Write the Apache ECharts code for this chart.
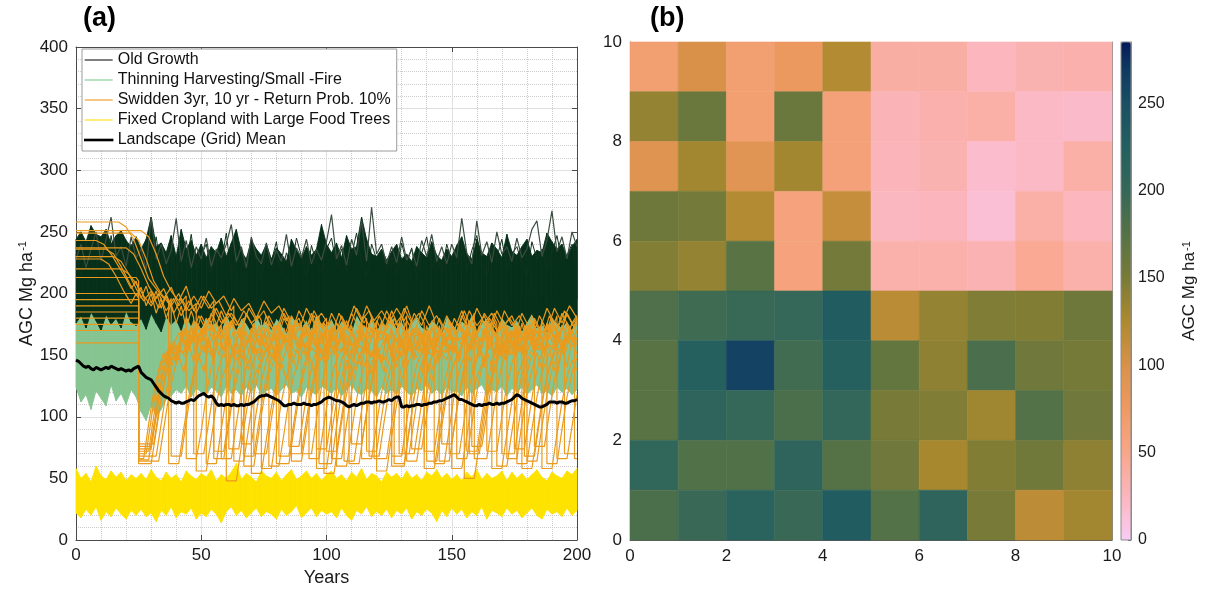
<!DOCTYPE html>
<html><head><meta charset="utf-8">
<script src="https://cdn.jsdelivr.net/npm/echarts@6/dist/echarts.min.js"></script>
<style>html,body{margin:0;padding:0;background:#fff}#c{width:1225px;height:591px}</style>
</head><body><div id="c"></div>
<script>
const FONT = '"Liberation Sans", Arial, Helvetica, sans-serif';

// ---------- panel (a) data ----------
const yearTicks = [0, 50, 100, 150, 200];
const agcTicks = [0, 50, 100, 150, 200, 250, 300, 350, 400];
// envelopes sampled every 2 years (0..200)
const ogLower = [176,182,172,185,178,170,183,175,180,172,186,177,174, 180,171,184,176,169,182,175,179,170,183,174,178,172, 181,173,177,168,184,175,171,180,176,169,183,174,178, 171,180,175,168,182,177,172,179,170,184,176,173, 180,171,178,174,169,183,176,172,180,170,177,174, 182,172,178,169,176,181,173,170,179,175,168,182,176, 171,178,174,183,170,176,180,172,168,181,175,173, 179,170,177,184,172,175,169,181,176,172,178,171,180];
const ogUpper = [244,250,242,255,248,246,252,240,247,251,243,238,246, 236,244,262,238,241,233,247,230,252,236,243,231,240, 229,238,233,245,230,241,252,234,228,243,236,231,240, 228,237,232,226,244,235,229,238,231,236,256,240, 233,241,229,247,236,238,262,244,232,230,236,227, 234,240,228,232,226,238,233,229,242,231,227,236,230, 239,246,232,228,244,233,230,241,236,229,248,234, 231,238,244,230,235,233,249,242,236,240,230,238,244];
const ogSpike = [228,240,221,236,250,226,244,262,230,238,222,246,229, 236,219,262,228,240,224,235,261,226,243,221,238,228, 245,222,236,229,240,256,226,238,221,246,230,224,241, 223,235,226,248,222,237,229,244,224,236,227,242, 264,228,239,223,244,231,259,226,270,232,240,224, 238,225,246,227,236,222,243,230,248,226,238,224,240, 229,261,233,224,259,231,242,225,250,232,238,226, 245,229,236,252,259,230,243,267,234,246,228,250,238];
const ogLine2 = [232,214,241,226,219,238,210,247,224,233,216,240,222, 213,238,225,246,218,230,241,212,235,224,248,219,231, 240,217,233,225,249,214,228,236,219,244,226,211,237, 226,242,215,233,221,245,230,214,239,224,218,236, 245,222,236,218,231,249,225,213,240,228,235,220, 230,215,241,224,237,212,233,246,221,229,217,240,226, 222,240,218,235,247,226,213,238,229,244,220,232, 238,224,215,242,228,236,219,233,247,226,231,240,222];
const thinLower = [124,112,118,106,121,115,109,126,113,119,110,122,116, 104,97,110,100,106,114,117,122,119,125,116,123,120, 118,124,121,116,125,119,122,117,124,120,126,118,121, 123,117,122,126,119,121,116,124,120,118,125,122, 119,124,117,122,126,120,118,123,121,116,124,119, 122,118,125,120,117,123,121,126,119,122,118,124,120, 121,117,124,119,123,126,118,122,120,125,117,123, 120,124,118,122,126,119,121,117,124,120,123,118,122];
const thinUpper = [192,196,189,198,191,194,199,190,195,188,197,193,190, 196,190,199,193,188,197,192,195,189,198,191,194,196, 190,197,192,188,199,194,190,196,193,189,198,192,195, 191,198,194,189,196,192,199,190,195,193,188,197, 193,189,198,192,195,190,197,194,188,196,191,199, 195,190,197,193,189,198,192,196,190,194,199,191,193, 197,192,189,195,198,191,194,190,196,193,188,197, 190,196,193,199,191,195,189,197,192,194,198,190,195];
const cropLower = [22,18,25,20,27,16,23,19,26,21,17,24,20, 25,19,22,15,24,20,27,18,23,21,26,17,22, 19,25,21,14,23,27,20,24,18,22,26,19,23, 21,17,25,20,23,28,18,22,26,19,24,21, 23,18,26,20,16,24,21,27,19,23,20,25, 18,24,21,26,17,23,20,25,22,15,24,19,26, 21,25,18,23,20,27,17,24,22,19,26,21, 24,18,22,26,20,17,25,21,23,19,26,20,24];
const cropUpper = [58,50,54,47,60,52,49,56,51,55,48,53,50, 54,49,57,51,48,55,50,53,47,56,52,49,54, 51,57,48,53,50,55,62,49,54,51,47,56,52, 50,55,48,53,57,49,52,56,50,54,48,53, 56,50,53,48,55,51,58,49,54,52,47,55, 51,54,49,56,50,53,48,55,52,57,50,54,49, 53,48,55,51,57,49,54,50,52,56,48,55, 50,54,49,53,57,51,48,55,52,50,56,53,58];
// landscape mean, every year 0..200
const meanAGC = [146,145,143,141,140,141,139,138,140,139, 138,139,140,139,141,140,139,138,139,138, 137,138,137,139,140,141,136,134,132,131, 130,127,124,121,119,117,116,115,113,112, 111,112,111,111,112,113,114,113,115,117, 118,119,117,116,117,115,111,109,110,109, 110,110,109,110,109,109,110,109,110,110, 111,112,114,116,117,117,118,117,116,115, 114,113,111,109,109,110,110,111,110,110, 110,111,110,110,109,110,110,111,112,114, 115,116,115,114,113,113,112,111,109,108, 109,110,109,110,111,111,112,112,111,112, 112,113,112,112,113,114,113,115,116,116, 108,108,109,108,109,109,110,110,109,110, 110,111,111,112,112,113,113,114,115,116, 117,118,116,114,114,113,112,111,110,109, 109,110,109,110,110,111,110,110,111,110, 111,111,112,113,114,116,118,117,115,114, 113,112,111,110,109,108,108,109,110,112, 112,112,111,112,112,111,111,112,113,113, 114];
// swidden plots: [year, AGC] vertices
const swidden1 = [[0,258],[17,258],[20,254],[23,244],[26,228],[29,212],[32,204],[35,196],[38,205],[41,190],[44,198],[44,66],[48,66],[50,88],[52,118],[54,140],[56,156],[59,166],[62,178],[65,164],[68,184],[71,172],[71,70],[76,70],[78,98],[80,124],[82,144],[85,160],[88,152],[91,174],[94,162],[97,182],[97,62],[102,62],[104,92],[106,120],[108,140],[111,156],[114,170],[117,158],[120,178],[123,166],[126,186],[129,172],[132,190],[134,178],[134,74],[138,74],[140,102],[142,128],[144,146],[147,160],[150,154],[153,176],[156,164],[159,184],[159,66],[164,66],[166,94],[168,122],[170,142],[173,158],[176,150],[179,172],[182,162],[185,182],[188,170],[191,188],[194,176],[197,190],[200,180]];
const swidden2 = [[0,251],[26,251],[29,246],[32,232],[35,214],[38,202],[41,194],[44,206],[47,186],[50,198],[53,188],[55,194],[55,72],[59,72],[61,100],[63,126],[65,146],[68,160],[71,174],[74,162],[77,182],[80,170],[83,188],[86,176],[86,64],[90,64],[92,90],[94,118],[96,138],[99,154],[102,168],[105,158],[108,178],[110,168],[110,78],[114,78],[116,104],[118,130],[120,148],[123,162],[126,156],[129,176],[132,166],[135,184],[138,174],[141,190],[143,180],[143,62],[147,62],[149,90],[151,118],[153,138],[156,154],[159,168],[162,160],[165,180],[168,170],[170,176],[170,70],[175,70],[177,98],[179,124],[181,144],[184,160],[187,152],[190,174],[193,164],[196,184],[199,172],[200,178]];
const swidden3 = [[0,249],[22,249],[25,243],[28,228],[31,210],[34,200],[37,192],[38,196],[38,68],[42,68],[44,96],[46,122],[48,142],[51,158],[54,150],[57,172],[60,162],[63,182],[66,170],[69,188],[72,178],[75,186],[77,176],[77,60],[81,60],[83,86],[85,114],[87,134],[90,150],[93,164],[96,156],[99,176],[102,166],[105,184],[108,172],[111,190],[114,178],[117,186],[119,174],[119,66],[124,66],[126,94],[128,120],[130,140],[133,156],[136,148],[139,170],[142,160],[145,180],[148,168],[150,176],[150,58],[154,58],[156,84],[158,112],[160,132],[163,148],[166,162],[169,154],[172,174],[175,164],[178,184],[181,172],[183,180],[183,76],[187,76],[189,104],[191,130],[193,148],[196,162],[199,156],[200,160]];
const swidden4 = [[0,237],[20,237],[23,232],[26,220],[29,206],[32,196],[35,204],[38,190],[41,200],[44,186],[47,198],[50,188],[53,202],[56,192],[59,198],[62,186],[63,190],[63,64],[67,64],[69,92],[71,118],[73,138],[76,154],[79,146],[82,168],[85,158],[88,178],[91,166],[94,184],[96,172],[96,74],[100,74],[102,102],[104,128],[106,146],[109,160],[112,152],[115,174],[118,164],[121,182],[124,170],[126,178],[126,60],[131,60],[133,88],[135,116],[137,136],[140,152],[143,166],[146,158],[149,178],[152,168],[155,186],[157,176],[157,70],[161,70],[163,98],[165,124],[167,144],[170,158],[173,150],[176,172],[179,162],[182,182],[185,170],[188,188],[191,176],[192,182],[192,66],[196,66],[198,92],[200,118]];
const swidden5 = [[0,230],[15,230],[18,226],[21,216],[24,204],[27,194],[30,202],[33,188],[36,198],[39,184],[42,196],[45,186],[48,192],[48,56],[52,56],[54,82],[56,110],[58,130],[61,146],[64,160],[67,152],[70,172],[73,162],[76,182],[79,170],[81,176],[81,68],[85,68],[87,96],[89,122],[91,142],[94,156],[97,150],[100,172],[103,162],[106,182],[109,170],[112,188],[115,176],[116,180],[116,72],[120,72],[122,100],[124,126],[126,144],[129,158],[132,152],[135,172],[138,164],[140,170],[140,64],[144,64],[146,92],[148,118],[150,138],[153,154],[156,168],[159,160],[162,178],[165,168],[168,186],[171,174],[174,182],[176,172],[176,62],[180,62],[182,90],[184,116],[186,136],[189,152],[192,166],[195,158],[198,176],[200,168]];
const swidden6 = [[0,220],[18,220],[21,216],[24,208],[27,198],[30,190],[33,200],[36,186],[39,196],[42,182],[45,194],[48,184],[51,198],[54,188],[57,194],[60,182],[63,196],[66,186],[69,192],[72,180],[75,194],[78,184],[81,190],[84,178],[85,182],[85,76],[89,76],[91,104],[93,130],[95,148],[98,162],[101,154],[104,176],[107,166],[110,184],[113,172],[116,190],[119,178],[122,186],[125,176],[128,188],[131,178],[132,182],[132,64],[136,64],[138,92],[140,118],[142,138],[145,154],[148,146],[151,168],[154,158],[157,178],[160,166],[163,184],[166,174],[166,58],[170,58],[172,86],[174,112],[176,132],[179,148],[182,162],[185,154],[188,174],[191,164],[194,184],[197,172],[200,180]];
const swidden7 = [[0,200],[25,200],[25,65],[29,65],[31,92],[33,118],[35,138],[38,154],[41,168],[44,160],[47,178],[50,168],[52,174],[52,62],[56,62],[58,90],[60,116],[62,136],[65,152],[68,146],[71,166],[74,158],[77,176],[80,166],[83,184],[86,172],[89,180],[90,174],[90,70],[94,70],[96,98],[98,124],[100,144],[103,158],[106,152],[109,172],[112,162],[115,182],[118,170],[120,176],[120,56],[124,56],[126,84],[128,110],[130,130],[133,146],[136,160],[139,152],[142,172],[145,164],[148,182],[151,170],[154,186],[156,176],[156,72],[160,72],[162,100],[164,126],[166,144],[169,158],[172,152],[175,172],[178,162],[180,168],[180,64],[184,64],[186,92],[188,118],[190,138],[193,154],[196,166],[199,160],[200,164]];
const swidden8 = [[0,190],[25,190],[25,62],[30,62],[32,88],[34,114],[36,134],[39,150],[42,164],[45,156],[48,176],[51,166],[54,184],[57,172],[60,180],[61,174],[61,74],[65,74],[67,102],[69,128],[71,146],[74,160],[77,152],[80,174],[83,164],[86,182],[89,170],[92,188],[95,176],[98,184],[101,174],[102,178],[102,66],[106,66],[108,94],[110,120],[112,140],[115,156],[118,148],[121,170],[124,160],[127,180],[129,170],[129,70],[133,70],[135,98],[137,124],[139,144],[142,158],[145,152],[148,172],[151,162],[154,182],[157,170],[160,188],[163,176],[166,184],[168,176],[168,60],[172,60],[174,88],[176,114],[178,134],[181,150],[184,164],[187,156],[190,176],[193,166],[196,184],[199,172],[200,176]];
const swidden9 = [[0,180],[25,180],[25,70],[28,70],[30,98],[32,124],[34,142],[37,156],[40,150],[43,172],[46,162],[49,182],[52,170],[55,188],[58,176],[61,184],[64,174],[67,186],[70,176],[73,182],[74,178],[74,58],[78,58],[80,86],[82,112],[84,132],[87,148],[90,162],[93,154],[96,174],[99,164],[102,184],[105,172],[107,178],[107,64],[111,64],[113,92],[115,118],[117,138],[120,154],[123,146],[126,168],[129,158],[132,178],[135,168],[138,186],[141,174],[144,182],[146,174],[146,78],[150,78],[152,106],[154,132],[156,150],[159,164],[162,156],[165,176],[168,166],[171,186],[174,174],[177,182],[179,174],[179,68],[183,68],[185,96],[187,122],[189,142],[192,156],[195,150],[198,170],[200,162]];
const swidden10 = [[0,160],[25,160],[25,78],[31,78],[33,104],[35,128],[37,146],[40,158],[43,152],[46,172],[49,162],[52,180],[55,168],[58,186],[60,176],[60,48],[64,48],[66,76],[68,104],[70,126],[73,142],[76,156],[79,148],[82,168],[85,158],[88,178],[91,166],[93,172],[93,66],[97,66],[99,94],[101,120],[103,140],[106,156],[109,148],[112,170],[115,160],[118,180],[121,168],[124,186],[127,174],[130,182],[131,176],[131,70],[135,70],[137,98],[139,124],[141,144],[144,158],[147,152],[150,172],[153,162],[155,168],[155,50],[159,50],[161,78],[163,106],[165,128],[168,144],[171,158],[174,150],[177,170],[180,160],[183,180],[186,168],[188,174],[188,62],[192,62],[194,90],[196,116],[198,136],[200,148]];
const swidden11 = [[0,213],[24,213],[25,210],[25,72],[29,72],[31,100],[33,126],[35,144],[38,158],[41,152],[44,172],[47,162],[50,182],[53,170],[56,188],[59,176],[62,184],[65,174],[67,180],[67,60],[71,60],[73,88],[75,114],[77,134],[80,150],[83,164],[86,156],[89,176],[92,166],[95,186],[98,174],[100,180],[100,72],[104,72],[106,100],[108,126],[110,144],[113,158],[116,152],[119,172],[122,162],[125,182],[128,170],[131,188],[134,176],[137,184],[139,176],[139,58],[143,58],[145,86],[147,112],[149,132],[152,148],[155,162],[158,154],[161,174],[164,164],[167,184],[170,172],[173,180],[175,174],[175,74],[179,74],[181,102],[183,128],[185,146],[188,160],[191,154],[194,174],[197,164],[200,180]];
const swidden12 = [[0,170],[25,170],[25,68],[32,68],[34,94],[36,120],[38,140],[41,156],[44,148],[47,170],[50,160],[53,180],[56,168],[58,174],[58,66],[62,66],[64,94],[66,120],[68,140],[71,156],[74,150],[77,170],[80,160],[83,180],[86,168],[89,186],[92,174],[95,182],[98,172],[99,176],[99,54],[103,54],[105,82],[107,108],[109,128],[112,144],[115,158],[118,150],[121,170],[124,160],[126,166],[126,68],[130,68],[132,96],[134,122],[136,142],[139,156],[142,150],[145,170],[148,160],[151,180],[154,168],[157,186],[160,174],[163,182],[164,176],[164,72],[168,72],[170,100],[172,126],[174,144],[177,158],[180,152],[183,172],[186,162],[189,182],[192,170],[195,186],[198,176],[200,182]];
const swidden13 = [[0,236],[12,236],[15,232],[18,222],[21,210],[24,198],[26,205],[28,190],[30,200],[32,184],[34,196],[36,180],[38,192],[40,176],[42,190],[44,172],[46,186],[47,180],[47,70],[51,70],[53,96],[55,122],[57,140],[59,152],[61,138],[63,160],[65,146],[67,170],[69,152],[71,176],[73,158],[75,168],[77,150],[79,172],[80,160],[80,62],[85,62],[87,90],[89,116],[91,136],[93,150],[95,136],[97,158],[99,144],[101,168],[103,150],[105,174],[107,156],[109,166],[111,148],[113,172],[114,160],[114,66],[118,66],[120,94],[122,120],[124,138],[126,154],[128,140],[130,164],[132,148],[134,172],[136,154],[138,168],[140,150],[142,174],[144,158],[146,170],[148,152],[149,160],[149,70],[153,70],[155,98],[157,124],[159,142],[161,156],[163,140],[165,166],[167,150],[169,176],[171,156],[173,170],[175,152],[177,174],[179,158],[181,168],[183,150],[185,172],[186,162],[186,58],[190,58],[192,86],[194,112],[196,132],[198,146],[200,138]];
const swidden14 = [[0,228],[10,228],[13,224],[16,214],[19,202],[22,192],[24,200],[25,196],[25,74],[30,74],[32,100],[34,126],[36,144],[38,158],[40,142],[42,166],[44,150],[46,174],[48,156],[50,170],[52,148],[54,176],[56,160],[58,172],[60,154],[62,178],[64,162],[66,170],[67,164],[67,68],[71,68],[73,96],[75,122],[77,140],[79,154],[81,140],[83,164],[85,148],[87,172],[89,156],[91,168],[93,150],[95,176],[97,160],[99,170],[101,152],[103,174],[104,166],[104,60],[108,60],[110,88],[112,114],[114,134],[116,148],[118,134],[120,158],[122,142],[124,166],[126,150],[128,172],[130,156],[132,168],[134,150],[136,174],[138,160],[139,166],[139,72],[143,72],[145,100],[147,126],[149,144],[151,158],[153,144],[155,168],[157,152],[159,176],[161,160],[163,172],[165,154],[167,178],[169,162],[171,170],[172,164],[172,66],[176,66],[178,94],[180,120],[182,138],[184,152],[186,138],[188,162],[190,146],[192,170],[194,154],[196,176],[198,160],[200,170]];
const swidden15 = [[0,185],[25,185],[25,64],[33,64],[35,90],[37,116],[39,136],[41,150],[43,136],[45,160],[47,144],[49,168],[51,152],[53,164],[55,146],[57,170],[59,154],[61,166],[63,150],[65,172],[66,162],[66,78],[70,78],[72,104],[74,128],[76,146],[78,160],[80,146],[82,170],[84,154],[86,176],[88,158],[90,168],[92,150],[94,172],[96,156],[98,166],[100,150],[102,174],[104,158],[106,168],[108,152],[109,160],[109,62],[113,62],[115,90],[117,116],[119,136],[121,150],[123,136],[125,160],[127,144],[129,168],[131,152],[133,164],[135,146],[137,170],[139,154],[141,166],[143,150],[145,172],[147,158],[149,168],[151,152],[152,160],[152,66],[156,66],[158,94],[160,120],[162,140],[164,154],[166,140],[168,164],[170,148],[172,172],[174,156],[176,168],[178,150],[180,174],[182,158],[184,170],[186,152],[188,176],[190,160],[192,170],[194,154],[195,162],[195,70],[200,70]];
const swidden16 = [[0,175],[25,175],[25,66],[27,66],[29,94],[31,120],[33,138],[35,152],[37,138],[39,162],[41,146],[43,170],[45,154],[47,166],[49,148],[51,172],[53,156],[55,168],[57,150],[59,174],[61,158],[63,170],[65,152],[67,176],[69,160],[70,168],[70,54],[74,54],[76,82],[78,108],[80,128],[82,144],[84,130],[86,154],[88,138],[90,162],[92,146],[94,170],[96,154],[98,166],[100,148],[102,172],[104,156],[106,168],[108,150],[110,174],[112,158],[114,168],[116,152],[117,160],[117,68],[121,68],[123,96],[125,122],[127,140],[129,154],[131,140],[133,164],[135,148],[137,172],[139,156],[141,168],[143,150],[145,174],[147,158],[149,170],[151,152],[153,176],[155,160],[157,170],[158,164],[158,76],[162,76],[164,102],[166,128],[168,146],[170,160],[172,146],[174,170],[176,154],[178,176],[180,160],[182,172],[184,154],[186,178],[188,162],[190,172],[192,156],[194,174],[196,160],[198,170],[199,164],[199,66],[200,66]];
const swidden17 = [[0,195],[25,195],[25,76],[30,76],[32,102],[34,128],[36,146],[38,160],[40,146],[42,170],[44,154],[46,166],[48,150],[50,172],[52,158],[54,168],[55,160],[55,66],[59,66],[61,94],[63,120],[65,138],[67,152],[69,138],[71,162],[73,146],[75,170],[77,154],[79,166],[81,148],[83,172],[85,158],[87,168],[89,150],[91,174],[93,160],[95,170],[96,164],[96,58],[100,58],[102,86],[104,112],[106,132],[108,146],[110,132],[112,156],[114,140],[116,164],[118,148],[120,160],[122,144],[124,168],[126,152],[128,164],[130,148],[132,172],[134,156],[136,168],[138,150],[140,174],[142,158],[144,168],[145,162],[145,64],[149,64],[151,92],[153,118],[155,136],[157,150],[159,136],[161,160],[163,144],[165,168],[167,152],[169,164],[171,146],[173,170],[175,154],[177,166],[179,150],[181,174],[183,158],[185,170],[187,152],[189,176],[191,160],[193,170],[195,154],[197,172],[199,158],[200,164]];
const swidden18 = [[0,243],[8,243],[11,240],[14,232],[17,222],[20,212],[22,204],[24,210],[26,196],[28,206],[30,192],[32,202],[34,188],[36,198],[37,192],[37,62],[41,62],[43,90],[45,116],[47,136],[49,150],[51,136],[53,160],[55,144],[57,168],[59,152],[61,164],[63,146],[65,170],[67,154],[69,166],[71,150],[73,174],[75,158],[77,168],[79,152],[81,176],[83,160],[85,170],[86,164],[86,70],[90,70],[92,98],[94,124],[96,142],[98,156],[100,142],[102,166],[104,150],[106,174],[108,158],[110,170],[112,152],[114,176],[116,160],[118,172],[120,154],[122,178],[124,162],[126,170],[127,166],[127,62],[131,62],[133,90],[135,116],[137,136],[139,150],[141,136],[143,160],[145,144],[147,168],[149,152],[151,164],[153,146],[155,170],[157,154],[159,166],[161,148],[163,172],[165,156],[167,168],[169,150],[171,174],[173,158],[175,170],[177,152],[178,160],[178,58],[182,58],[184,86],[186,112],[188,132],[190,146],[192,132],[194,156],[196,140],[198,164],[200,150]];
const swiddenPlots = [swidden1,swidden2,swidden3,swidden4,swidden5,swidden6,swidden7,swidden8,swidden9,swidden10,swidden11,swidden12,swidden13,swidden14,swidden15,swidden16,swidden17,swidden18];

// ---------- panel (b) data: rows from y=9..10 (top) to y=0..1 (bottom) ----------
const gridTicks = [0, 2, 4, 6, 8, 10];
const colorbarTicks = [0, 50, 100, 150, 200, 250];
const agcGrid = [
  [65,100,65,78,122,38,38,25,32,33],
  [137,160,65,160,60,28,33,36,22,20],
  [92,130,90,130,60,27,32,18,22,36],
  [157,153,122,58,112,24,26,15,36,25],
  [145,137,172,58,153,34,34,31,45,34],
  [180,192,198,200,230,118,137,147,146,157],
  [172,222,262,190,222,165,140,183,156,152],
  [172,210,200,182,203,150,147,132,176,156],
  [205,178,178,210,175,156,128,146,155,140],
  [182,197,215,197,230,176,210,150,117,130]
];
const cbMax = 285;
const cmapAnchors = [[0,'#f9ccf4'],[25,'#fbb6be'],[50,'#f8a68a'],[75,'#ee9a62'],[100,'#d9914a'],[125,'#ae8a2e'],[150,'#787b37'],[175,'#557246'],[200,'#356858'],[225,'#235f60'],[250,'#1a4f63'],[270,'#0f3860'],[285,'#03195a']];

// ---------- helpers ----------
const years2 = ogLower.map((_, i) => i * 2);
const pair = arr => arr.map((v, i) => [years2[i], v]);
const band = (lo, up) => lo.map((v, i) => [years2[i], v, up[i]]);
function hex2rgb(h){return [parseInt(h.substr(1,2),16),parseInt(h.substr(3,2),16),parseInt(h.substr(5,2),16)];}
function cmapAt(v){
  for (let k=1;k<cmapAnchors.length;k++){
    const [v0,c0]=cmapAnchors[k-1],[v1,c1]=cmapAnchors[k];
    if (v<=v1){const t=(v-v0)/(v1-v0);const a=hex2rgb(c0),b=hex2rgb(c1);
      return 'rgb('+a.map((x,j)=>Math.round(x+(b[j]-x)*t)).join(',')+')';}
  }
  return cmapAnchors[cmapAnchors.length-1][1];
}
const cmapColors = [];
for (let v=0; v<=cbMax; v+=5) cmapColors.push(cmapAt(v));

const heatData = [];
agcGrid.forEach((row, r) => row.forEach((val, c) => heatData.push([c, agcGrid.length - 1 - r, val])));

const GREEN = '#86c591', DARK = '#07301a', ORANGE = '#ea9a1c', YELLOW = '#fee200';
const AX = '#4a4a4a';
const lbl = {fontSize: 17, color: '#1a1a1a', fontFamily: FONT};
const supName = (fs) => ({color:'#1a1a1a', rich:{b:{fontSize:fs, fontFamily:FONT, color:'#1a1a1a'}, s:{fontSize:Math.round(fs*0.62), fontFamily:FONT, color:'#1a1a1a', verticalAlign:'top', padding:[0,0,0,1]}}});

function bandRender(color){
  return function(params, api){
    const i = params.dataIndexInside;
    if (i >= params.dataInsideLength - 1) return null;
    const x0 = api.value(0, i), l0 = api.value(1, i), u0 = api.value(2, i);
    const x1 = api.value(0, i + 1), l1 = api.value(1, i + 1), u1 = api.value(2, i + 1);
    const pts = [api.coord([x0, l0]), api.coord([x1, l1]), api.coord([x1, u1]), api.coord([x0, u0])];
    return {type:'polygon', shape:{points:pts}, style:{fill:color, stroke:color, lineWidth:0.9}};
  };
}
function bandSeries(name, lo, up, color){
  return {type:'custom', name:name, xAxisIndex:0, yAxisIndex:0, silent:true, animation:false, color:color,
    data: band(lo, up), encode:{x:0, y:[1,2]}, renderItem: bandRender(color)};
}

const base = {type:'line', xAxisIndex:0, yAxisIndex:0, symbol:'none', silent:true, animation:false};
const series = [];
series.push(bandSeries('Thinning Harvesting/Small -Fire', thinLower, thinUpper, GREEN));
series.push(bandSeries('Old Growth', ogLower, ogUpper, DARK));
series.push(Object.assign({}, base, {name:'_og1', data: pair(ogLine2), lineStyle:{width:1,color:'#10321c'}}));
series.push(Object.assign({}, base, {name:'_og2', data: pair(ogSpike), lineStyle:{width:1.2,color:'#3c4d42'}}));
swiddenPlots.forEach(p => series.push(Object.assign({}, base, {name:'Swidden 3yr, 10 yr - Return Prob. 10%', color:ORANGE, data:p, lineStyle:{width:1.2,color:ORANGE}})));
series.push(bandSeries('Fixed Cropland with Large Food Trees', cropLower, cropUpper, YELLOW));
series.push(Object.assign({}, base, {name:'Landscape (Grid) Mean', color:'#000', data: meanAGC.map((v,i)=>[i,v]), lineStyle:{width:3,color:'#000'}, z:5}));
const heatIndex = series.length;
series.push({type:'custom', name:'grid', xAxisIndex:2, yAxisIndex:2, silent:true, animation:false, data: heatData, encode:{x:0,y:1},
  renderItem: function(params, api){
    const x = api.value(0), y = api.value(1);
    const a = api.coord([x, y + 1]), b = api.coord([x + 1, y]);
    const col = api.visual('color');
    return {type:'rect', shape:{x:a[0], y:a[1], width:b[0]-a[0], height:b[1]-a[1]}, style:{fill:col, stroke:col, lineWidth:0.6}};
  }});

const option = {
  animation: false,
  backgroundColor: '#fff',
  textStyle: {fontFamily: FONT},
  graphic: [
    {type:'text', left: 83, top: 5, style:{text:'(a)', font:'bold 27px ' + FONT, fill:'#000'}},
    {type:'text', left: 650, top: 5, style:{text:'(b)', font:'bold 27px ' + FONT, fill:'#000'}}
  ],
  grid: [
    {left:76, top:47, width:501, height:493, containLabel:false, outerBoundsMode:'none'},
    {left:630, top:42, width:482, height:498, containLabel:false, outerBoundsMode:'none'},
    {left:1121, top:42, width:10, height:498, containLabel:false, outerBoundsMode:'none', show:true, borderColor:'#8a8a8a', borderWidth:1, backgroundColor:'transparent', z:5}
  ],
  xAxis: [
    {gridIndex:0, type:'value', min:yearTicks[0], max:yearTicks[yearTicks.length-1], interval:50, position:'bottom',
      axisLine:{show:true, onZero:false, lineStyle:{color:AX}}, axisTick:{show:true, inside:true, length:5, lineStyle:{color:AX}},
      axisLabel:Object.assign({margin:7}, lbl), splitLine:{show:true, lineStyle:{color:'#e1e1e1'}},
      minorTick:{show:false, splitNumber:5}, minorSplitLine:{show:true, lineStyle:{color:'#cdcdcd', type:'dotted'}},
      name:'Years', nameLocation:'middle', nameGap:29, nameTextStyle:{fontSize:18, color:'#1a1a1a', fontFamily:FONT}},
    {gridIndex:0, type:'value', min:0, max:200, interval:50, position:'top',
      axisLine:{show:true, onZero:false, lineStyle:{color:AX}}, axisTick:{show:true, inside:true, length:5, lineStyle:{color:AX}},
      axisLabel:{show:false}, splitLine:{show:false}},
    {gridIndex:1, type:'value', min:gridTicks[0], max:gridTicks[gridTicks.length-1], interval:2, position:'bottom',
      axisLine:{show:true, onZero:false, lineStyle:{color:'#5a5a5a'}}, axisTick:{show:false},
      axisLabel:Object.assign({margin:8}, lbl), splitLine:{show:false}},
    {gridIndex:1, type:'value', min:0, max:10, position:'top',
      axisLine:{show:true, onZero:false, lineStyle:{color:'#9a9a9a', width:0.6}}, axisTick:{show:false}, axisLabel:{show:false}, splitLine:{show:false}},
    {gridIndex:2, type:'value', min:0, max:1, show:false}
  ],
  yAxis: [
    {gridIndex:0, type:'value', min:agcTicks[0], max:agcTicks[agcTicks.length-1], interval:50, position:'left',
      axisLine:{show:true, onZero:false, lineStyle:{color:AX}}, axisTick:{show:true, inside:true, length:5, lineStyle:{color:AX}},
      axisLabel:Object.assign({margin:8}, lbl), splitLine:{show:true, lineStyle:{color:'#e1e1e1'}},
      minorTick:{show:false, splitNumber:5}, minorSplitLine:{show:true, lineStyle:{color:'#cdcdcd', type:'dotted'}},
      name:'{b|AGC Mg ha}{s|-1}', nameLocation:'middle', nameGap:34, nameTextStyle:supName(18)},
    {gridIndex:0, type:'value', min:0, max:400, interval:50, position:'right',
      axisLine:{show:true, onZero:false, lineStyle:{color:AX}}, axisTick:{show:true, inside:true, length:5, lineStyle:{color:AX}},
      axisLabel:{show:false}, splitLine:{show:false}},
    {gridIndex:1, type:'value', min:0, max:10, interval:2, position:'left',
      axisLine:{show:true, onZero:false, lineStyle:{color:'#5a5a5a'}}, axisTick:{show:false},
      axisLabel:Object.assign({margin:8}, lbl), splitLine:{show:false}},
    {gridIndex:1, type:'value', min:0, max:10, position:'right',
      axisLine:{show:true, onZero:false, lineStyle:{color:'#8a8a8a'}}, axisTick:{show:false}, axisLabel:{show:false}, splitLine:{show:false}},
    {gridIndex:2, type:'value', min:0, max:cbMax, interval:50, position:'right',
      axisLine:{show:true, onZero:false, lineStyle:{color:'#8a8a8a'}},
      axisTick:{show:true, inside:true, length:3, lineStyle:{color:'#6a6a6a'}, customValues: colorbarTicks},
      axisLabel:{fontSize:16, color:'#1a1a1a', fontFamily:FONT, margin:7, customValues: colorbarTicks}, splitLine:{show:false},
      name:'{b|AGC Mg ha}{s|-1}', nameLocation:'middle', nameGap:50, nameTextStyle:supName(17)}
  ],
  visualMap: {
    type:'continuous', seriesIndex: heatIndex, dimension: 2, min:0, max:cbMax,
    inRange:{color: cmapColors}, orient:'vertical', left:1121, top:42, itemWidth:10, itemHeight:498,
    calculable:false, hoverLink:false, padding:0, text:null, showLabel:false
  },
  legend: {
    left:82, top:49, orient:'vertical', padding:[1, 6, 1, 2], itemGap:0, itemWidth:28, itemHeight:1.2, icon:'rect',
    backgroundColor:'#fff', borderColor:'#9a9a9a', borderWidth:1, borderRadius:0, selectedMode:false,
    textStyle:{fontSize:16, color:'#111', lineHeight:20, fontFamily:FONT},
    data:[
      {name:'Old Growth', itemStyle:{color:'#2b2b2b'}},
      {name:'Thinning Harvesting/Small -Fire', itemStyle:{color:'#86cf98'}},
      {name:'Swidden 3yr, 10 yr - Return Prob. 10%', itemStyle:{color:'#f0a030'}},
      {name:'Fixed Cropland with Large Food Trees', itemStyle:{color:'#ffe020'}},
      {name:'Landscape (Grid) Mean', itemStyle:{color:'#000', borderColor:'#000', borderWidth:1.4}}
    ]
  },
  series: series
};
const chart = echarts.init(document.getElementById('c'), null, {renderer:'canvas'});
chart.setOption(option);
</script>
</body></html>
